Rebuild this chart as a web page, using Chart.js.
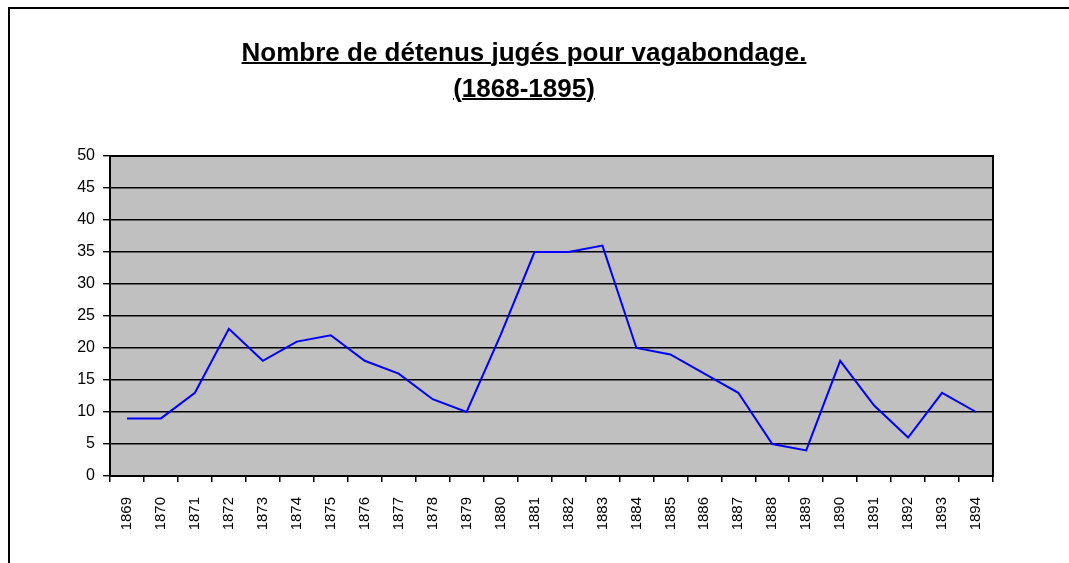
<!DOCTYPE html>
<html>
<head>
<meta charset="utf-8">
<title>Nombre de détenus jugés pour vagabondage</title>
<script src="https://cdn.jsdelivr.net/npm/chart.js@4"></script>
<style>
  body { margin: 0; background: #fff; }
  #wrap { position: relative; width: 1069px; height: 563px; overflow: hidden; }
  #frame {
    position: absolute; left: 8px; top: 7px; width: 1200px; height: 700px;
    border-left: 2px solid #000; border-top: 2px solid #000;
  }
  #titre {
    position: absolute; left: 224px; width: 600px; top: 34px;
    text-align: center; font: bold 26px "Liberation Sans", Arial, sans-serif;
    line-height: 36px; color: #000;
    text-decoration: underline; text-decoration-thickness: 2px;
  }
  canvas { position: absolute; left: 0; top: 0; }
</style>
</head>
<body>
<div id="wrap">
  <div id="frame"></div>
  <canvas id="chart" width="1069" height="563"></canvas>
  <div id="titre">Nombre de détenus jugés pour vagabondage.<br>(1868-1895)</div>
</div>
<script>
// years on the x axis
const annees = ['1869', '1870', '1871', '1872', '1873', '1874', '1875', '1876', '1877',
  '1878', '1879', '1880', '1881', '1882', '1883', '1884', '1885', '1886', '1887',
  '1888', '1889', '1890', '1891', '1892', '1893', '1894'];

// number of prisoners
const detenus = [9, 9, 13, 23, 18, 21, 22, 18, 16, 12, 10, 22, 35, 35, 36, 20, 19, 16, 13,
  5, 4, 18, 11, 6, 13, 10];

// y axis range
const yMin = 0;
const yMax = 50;
const yPas = 5;

// grey plot background + black box round the plot
const plotBox = {
  id: 'plotBox',
  beforeDraw(chart) {
    const { ctx, chartArea: a } = chart;
    ctx.save();
    ctx.fillStyle = '#c0c0c0';
    ctx.fillRect(a.left, a.top, a.right - a.left, a.bottom - a.top);
    ctx.restore();
  },
  afterDraw(chart) {
    const { ctx, chartArea: a } = chart;
    ctx.save();
    ctx.strokeStyle = '#000';
    ctx.lineWidth = 2;
    ctx.strokeRect(a.left, a.top, a.right - a.left, a.bottom - a.top);
    ctx.restore();
  }
};

const ctx = document.getElementById('chart').getContext('2d');
new Chart(ctx, {
  type: 'line',
  data: {
    labels: annees,
    datasets: [{
      label: 'Détenus',
      data: detenus,
      borderColor: '#0000ff',
      borderWidth: 2,
      pointRadius: 0,
      tension: 0,
      fill: false
    }]
  },
  options: {
    responsive: false,
    animation: false,
    layout: { padding: { top: 156, right: 76, left: 0, bottom: 0 } },
    plugins: {
      legend: { display: false },
      title: { display: false },
      tooltip: { enabled: false }
    },
    scales: {
      x: {
        offset: true,
        afterFit: s => { s.height = 87; },
        border: { display: false },
        grid: {
          offset: true,
          drawOnChartArea: false,
          drawTicks: true,
          tickLength: 6,
          color: '#000',
          lineWidth: 1.5
        },
        ticks: {
          minRotation: 90,
          maxRotation: 90,
          padding: 15,
          color: '#000',
          autoSkip: false,
          font: { family: "'Liberation Sans', Arial, sans-serif", size: 15 }
        }
      },
      y: {
        min: yMin,
        max: yMax,
        afterFit: s => { s.width = 110; },
        border: { display: false },
        grid: {
          color: '#000',
          lineWidth: 1.4,
          tickLength: 7
        },
        ticks: {
          stepSize: yPas,
          padding: 8,
          color: '#000',
          font: { family: "'Liberation Sans', Arial, sans-serif", size: 16 }
        }
      }
    }
  },
  plugins: [plotBox]
});
</script>
</body>
</html>
